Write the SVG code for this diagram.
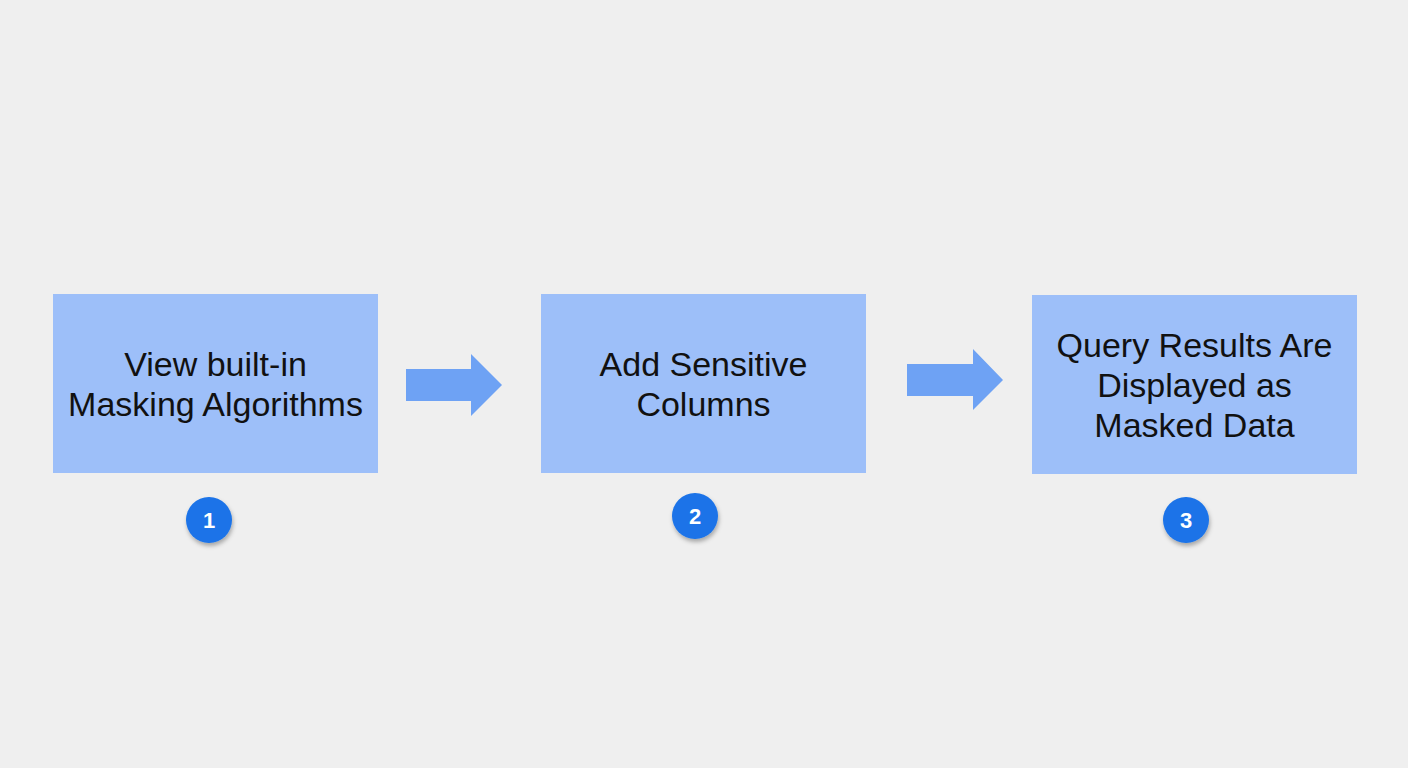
<svg xmlns="http://www.w3.org/2000/svg" width="1408" height="768" viewBox="0 0 1408 768">
<defs>
<style>
.box{fill:#9dbff9;}
.lbl{font-family:"Liberation Sans",Arial,sans-serif;font-size:34px;fill:#111;text-anchor:middle;}
.arrow{fill:#6ea2f4;}
.badge{fill:#1a73e8;}
.num{font-family:"Liberation Sans",Arial,sans-serif;font-size:22px;font-weight:bold;fill:#fff;text-anchor:middle;}
</style>
<filter id="sh" x="-50%" y="-50%" width="200%" height="200%">
<feDropShadow dx="1" dy="3" stdDeviation="2" flood-color="#000" flood-opacity="0.3"/>
</filter>
</defs>
<rect width="1408" height="768" fill="#efefef"/>
<g id="connectors">
<polygon class="arrow" points="406,369 471,369 471,354 502,385 471,416 471,401 406,401"/>
<polygon class="arrow" points="907,364 973,364 973,349 1003,380 973,410 973,396 907,396"/>
</g>
<g id="node1">
<rect class="box" x="53" y="294" width="325" height="179"/>
<text class="lbl" x="215.5" y="376">View built-in</text>
<text class="lbl" x="215.5" y="416">Masking Algorithms</text>
</g>
<g id="node2">
<rect class="box" x="541" y="294" width="325" height="179"/>
<text class="lbl" x="703.5" y="376">Add Sensitive</text>
<text class="lbl" x="703.5" y="416">Columns</text>
</g>
<g id="node3">
<rect class="box" x="1032" y="295" width="325" height="179"/>
<text class="lbl" x="1194.5" y="357">Query Results Are</text>
<text class="lbl" x="1194.5" y="397">Displayed as</text>
<text class="lbl" x="1194.5" y="437">Masked Data</text>
</g>
<g id="badge1">
<circle class="badge" cx="209" cy="520" r="23" filter="url(#sh)"/>
<text class="num" x="209" y="528">1</text>
</g>
<g id="badge2">
<circle class="badge" cx="695" cy="516" r="23" filter="url(#sh)"/>
<text class="num" x="695" y="524">2</text>
</g>
<g id="badge3">
<circle class="badge" cx="1186" cy="520" r="23" filter="url(#sh)"/>
<text class="num" x="1186" y="528">3</text>
</g>
</svg>
